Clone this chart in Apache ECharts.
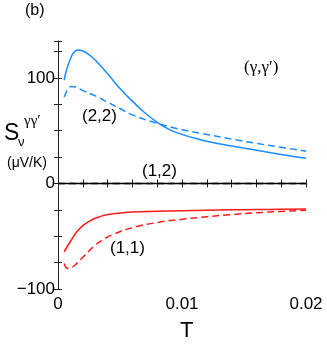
<!DOCTYPE html>
<html><head><meta charset="utf-8">
<script src="https://cdn.jsdelivr.net/npm/echarts@6/dist/echarts.min.js"></script>
<style>html,body{margin:0;padding:0;background:#fff}#c{width:327px;height:353px}</style>
</head><body><div id="c"></div>
<script>
// ---- data ----
const xTickLabels = [0, 0.01, 0.02];
const yTickLabels = [-100, 0, 100];

const T22solid = [0.0005, 0.0007, 0.001, 0.0013, 0.0016, 0.002, 0.0025, 0.003, 0.004, 0.005, 0.006, 0.007, 0.008, 0.009, 0.010, 0.011, 0.012, 0.014, 0.016, 0.018, 0.020];
const S22solid = [98, 108, 118, 124.5, 126.5, 125.5, 122, 117, 104, 90, 78, 67, 58, 51, 46.5, 43, 40, 35.5, 31.5, 27.5, 24];

const T22dash = [0.0005, 0.0008, 0.0011, 0.0015, 0.002, 0.003, 0.004, 0.005, 0.006, 0.008, 0.010, 0.012, 0.014, 0.016, 0.018, 0.020];
const S22dash = [82, 89, 92, 91, 88, 83, 77, 71, 65, 57, 51, 46.5, 42, 38, 34.3, 30.6];

const T11solid = [0.0005, 0.001, 0.0015, 0.002, 0.0025, 0.003, 0.004, 0.005, 0.006, 0.008, 0.010, 0.012, 0.014, 0.016, 0.018, 0.020];
const S11solid = [-64.7, -55, -46, -40, -36, -33, -29.5, -28, -27, -26.3, -25.8, -25.4, -25, -24.7, -24.5, -24.3];

const T11dash = [0.0005, 0.0008, 0.0011, 0.0014, 0.002, 0.0025, 0.003, 0.0038, 0.0045, 0.006, 0.008, 0.010, 0.012, 0.014, 0.016, 0.018, 0.020];
const S11dash = [-75.8, -80.5, -79.5, -77, -70, -64, -58.4, -52, -48, -42, -37, -34, -31.5, -29.5, -27.8, -26.5, -25.3];

const T12 = [0, 0.005, 0.01, 0.015, 0.02];
const S12solid = [0, 0, 0, 0, 0];
const S12dash = [0, 0, 0, 0, 0];

// ---- chart ----
const zip = (a, b) => a.map((t, i) => [t, b[i]]);
const BLUE = '#1a8cff', RED = '#ff1a1a', AX = '#222';
const FONT = '"Liberation Sans", Arial, sans-serif';
const SERIF = '"Liberation Serif", serif';

const inList = (v, list) => list.some(t => Math.abs(v - t) < 1e-9);

const baseX = {
  type: 'value', min: 0, max: 0.02, interval: 0.002,
  axisLine: {lineStyle: {color: AX, width: 1}},
  axisTick: {inside: true, length: 4, lineStyle: {color: AX}},
  splitLine: {show: false}
};
const baseY = {
  type: 'value', min: -100, max: 135, interval: 25,
  axisLine: {show: true, lineStyle: {color: AX, width: 1}},
  axisTick: {show: true, inside: true, length: 4, lineStyle: {color: AX}},
  splitLine: {show: false}
};

const line = (data, color, dashed, z) => ({
  type: 'line', data, smooth: true, symbol: 'none', z: z || 2,
  lineStyle: {color, width: 1.5, type: dashed ? [7, 4] : 'solid'},
  xAxisIndex: 0, yAxisIndex: 0
});

const txt = (x, y, text, size, family) => ({
  type: 'text', left: x, top: y,
  style: {text, fontSize: size, fontFamily: family || FONT, fill: '#000'}
});

const chart = echarts.init(document.getElementById('c'), null, {renderer: 'canvas'});
chart.setOption({
  animation: false,
  grid: {left: 58, right: 21, top: 41, bottom: 64},
  xAxis: [
    Object.assign({}, baseX, {position: 'bottom',
      axisLabel: {margin: 7, color: '#000', fontSize: 17, fontFamily: FONT,
        formatter: v => inList(v, xTickLabels) ? String(+v.toFixed(4)) : '',
        showMinLabel: true, showMaxLabel: true}}),
    Object.assign({}, baseX, {position: 'top', axisLabel: {show: false}})
  ],
  yAxis: [
    Object.assign({}, baseY, {position: 'left',
      axisLabel: {margin: 3, color: '#000', fontSize: 17, fontFamily: FONT,
        formatter: v => inList(v, yTickLabels) ? (v < 0 ? '\u2212' + Math.abs(v) : String(v)) : ''}}),
    Object.assign({}, baseY, {position: 'right', axisLabel: {show: false}})
  ],
  series: [
    line(zip(T12, S12solid), '#000', false, 3),
    line(zip(T12, S12dash), '#000', true, 4),
    line(zip(T22solid, S22solid), BLUE, false),
    line(zip(T22dash, S22dash), BLUE, true),
    line(zip(T11solid, S11solid), RED, false),
    line(zip(T11dash, S11dash), RED, true)
  ],
  graphic: [
    txt(25, 3, '(b)', 16),
    txt(180, 320, 'T', 22),
    txt(4, 122, 'S', 23),
    txt(18, 136, '\u03bd', 13),
    txt(24, 114, '\u03b3\u03b3\u2032', 15, SERIF),
    txt(7, 156, '(\u03bcV/K)', 14),
    txt(244, 59, '(\u03b3,\u03b3\u2032)', 17, SERIF),
    txt(82, 108, '(2,2)', 17),
    txt(142, 163, '(1,2)', 17),
    txt(110, 240, '(1,1)', 17)
  ]
});
</script></body></html>
